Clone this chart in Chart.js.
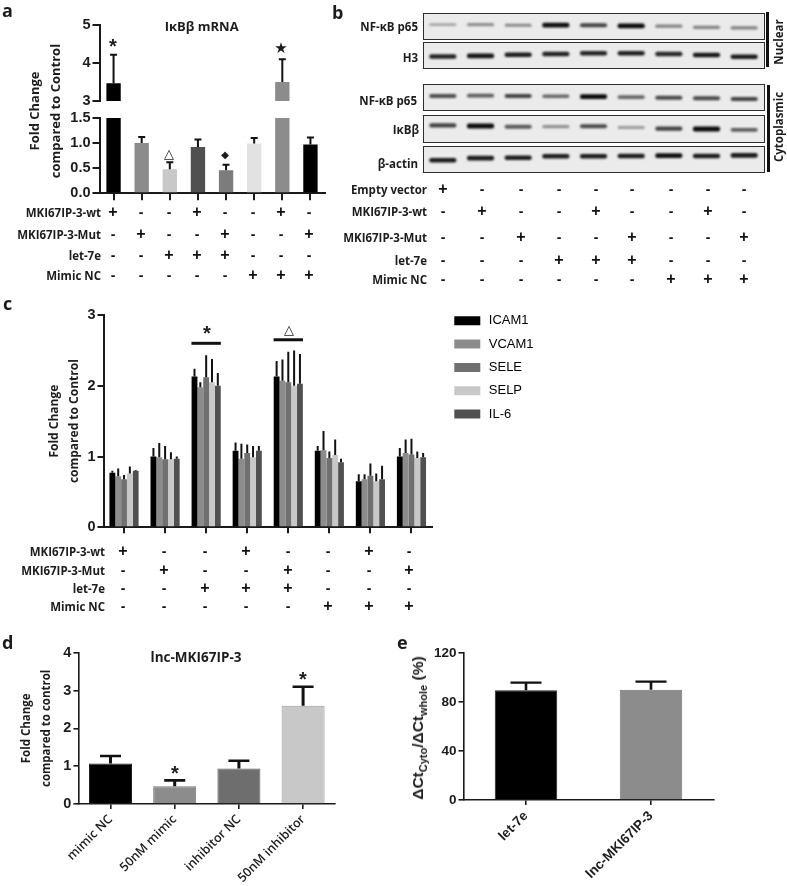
<!DOCTYPE html>
<html><head><meta charset="utf-8">
<script src="https://cdn.jsdelivr.net/npm/chart.js@4/dist/chart.umd.min.js"></script>
<style>
html,body{margin:0;padding:0;background:#fff;width:787px;height:886px;overflow:hidden}
#page{position:relative;width:787px;height:886px;filter:blur(0.35px)}
canvas{position:absolute;display:block}
.t{position:absolute;white-space:pre;color:#1c1c1c;line-height:1}
.blot{position:absolute;box-sizing:border-box;border:1.5px solid #2e2e2e;background:#ebebeb;overflow:hidden}
.blot canvas{filter:blur(0.8px)}
.vbar{position:absolute;background:#111}
</style></head><body><div id="page"></div>
<script>
// ---------- panel a ----------
const aGroups = ['1','2','3','4','5','6','7','8'];
const aValues = [3.47,1.0,0.48,0.92,0.46,0.99,3.5,0.97];
const aErrTop = [4.22,1.12,0.62,1.07,0.57,1.10,4.10,1.11];
const aColors = ['#000000','#8c8c8c','#c8c8c8','#505050','#7c7c7c','#e2e2e2','#8c8c8c','#000000'];
const treatRowsA = ['MKI67IP-3-wt','MKI67IP-3-Mut','let-7e','Mimic NC'];
const treatA = ['+--+--+-','-+--+--+','--+++---','-----+++'];
// ---------- panel b ----------
const lanes = ['1','2','3','4','5','6','7','8','9'];
const blotNames = ['NF-κB p65','H3','NF-κB p65','IκBβ','β-actin'];
const nucP65Pos  = [.557,.557,.532,.532,.532,.506,.494,.443,.418];
const nucP65Int  = [.25,.35,.38,.98,.72,1,.42,.42,.42];
const h3Pos      = [.438,.463,.513,.538,.575,.575,.538,.5,.425];
const h3Int      = [.88,.95,.92,.9,.88,.9,.86,.95,.92];
const cytP65Pos  = [.544,.557,.544,.532,.519,.494,.468,.443,.418];
const cytP65Int  = [.68,.6,.72,.55,1,.55,.7,.7,.72];
const ikbPos     = [.627,.602,.566,.578,.59,.542,.494,.482,.446];
const ikbInt     = [.72,1,.62,.35,.7,.3,.72,1,.6];
const actinPos   = [.45,.538,.55,.613,.613,.625,.638,.625,.65];
const actinInt   = [.92,.92,.92,.92,.92,.92,.98,.92,.92];
const treatRowsB = ['Empty vector','MKI67IP-3-wt','MKI67IP-3-Mut','let-7e','Mimic NC'];
const treatB = ['+--------','-+--+--+-','--+--+--+','---+++---','------+++'];
// ---------- panel c ----------
const cGroups = ['1','2','3','4','5','6','7','8'];
const cSeriesNames = ['ICAM1','VCAM1','SELE','SELP','IL-6'];
const cColors = ['#000000','#8c8c8c','#707070','#c8c8c8','#505050'];
const icam1 = [.77,1.0,2.13,1.08,2.13,1.08,.65,1.0];
const vcam1 = [.72,.99,1.98,.97,2.07,1.09,.68,1.05];
const sele  = [.68,.96,2.12,1.05,2.05,.98,.73,1.03];
const selp  = [.76,.96,2.05,.99,2.0,1.02,.65,.98];
const il6   = [.80,.97,2.0,1.08,2.03,.92,.68,.99];
const icam1Top = [.80,1.12,2.24,1.20,2.35,1.15,.75,1.12];
const vcam1Top = [.83,1.19,2.05,1.18,2.37,1.36,.75,1.24];
const seleTop  = [.74,1.15,2.43,1.17,2.48,1.07,.90,1.25];
const selpTop  = [.86,1.06,2.38,1.15,2.50,1.24,.76,1.07];
const il6Top   = [.81,1.00,2.18,1.15,2.45,.97,.87,1.05];
const treatRowsC = ['MKI67IP-3-wt','MKI67IP-3-Mut','let-7e','Mimic NC'];
const treatC = ['+--+--+-','-+--+--+','--+++---','-----+++'];
const cBrackets = [[2,2.60],[4,2.65]];
// ---------- panel d ----------
const dCats = ['mimic NC','50nM mimic','inhibitor NC','50nM inhibitor'];
const dValues = [1.07,0.47,0.94,2.60];
const dErrTop = [1.27,0.625,1.145,3.10];
const dColors = ['#000000','#8c8c8c','#6e6e6e','#c8c8c8'];
// ---------- panel e ----------
const eCats = ['let-7e','lnc-MKI67IP-3'];
const eValues = [89.7,90.2];
const eErrTop = [96,96.8];
const eColors = ['#000000','#8c8c8c'];

const page = document.getElementById('page');
const SEMI = '"Open Sans"';
const ARIAL = '"Liberation Sans"';
Chart.defaults.animation = false;
Chart.defaults.responsive = false;
Chart.defaults.devicePixelRatio = 1;
Chart.defaults.color = '#1c1c1c';

const errBars = {
  id:'errBars',
  afterDatasetsDraw(chart,args,o){
    if(!o.lw) return;
    const ctx = chart.ctx, a = chart.chartArea, y = chart.scales.y;
    ctx.save();
    ctx.beginPath(); ctx.rect(a.left,a.top-4,a.right-a.left,a.bottom-a.top+4); ctx.clip();
    ctx.strokeStyle = o.color||'#111'; ctx.lineCap='butt';
    chart.data.datasets.forEach((ds,i)=>{
      if(!ds.errTop) return;
      chart.getDatasetMeta(i).data.forEach((b,j)=>{
        const yt = y.getPixelForValue(ds.errTop[j]), yb = y.getPixelForValue(ds.data[j]);
        ctx.lineWidth = o.lw; ctx.beginPath(); ctx.moveTo(b.x,yb); ctx.lineTo(b.x,yt); ctx.stroke();
        if(o.cap){ctx.lineWidth = o.capLw||o.lw; ctx.beginPath(); ctx.moveTo(b.x-o.cap/2,yt); ctx.lineTo(b.x+o.cap/2,yt); ctx.stroke();}
      });
    });
    ctx.restore();
  }
};
const brackets = {
  id:'brackets',
  afterDatasetsDraw(chart,args,o){
    if(!o.items) return;
    const ctx = chart.ctx;
    ctx.save(); ctx.strokeStyle='#111'; ctx.lineWidth=3;
    o.items.forEach(([g,v])=>{
      const x = chart.scales.x.getPixelForValue(g), yy = chart.scales.y.getPixelForValue(v);
      ctx.beginPath(); ctx.moveTo(x-14.7,yy); ctx.lineTo(x+14.7,yy); ctx.stroke();
    });
    ctx.restore();
  }
};
Chart.register(errBars,brackets);

function mkCanvas(r,parent){
  const c=document.createElement('canvas');
  c.width=r.w;c.height=r.h;c.style.left=r.l+'px';c.style.top=r.t+'px';
  c.style.width=r.w+'px';c.style.height=r.h+'px';
  (parent||page).appendChild(c);return c;
}
function axes(r,p,o){
  const lw=o.lw||2, tl=o.tick||7;
  const noX=o.xDisplay===false;
  const y={type:'linear',min:o.min,max:o.max,
    afterFit(s){s.width=p.l-r.l;s.paddingTop=0;s.paddingBottom=0;},
    grid:{drawOnChartArea:false,drawTicks:true,tickLength:tl,color:'#1a1a1a',lineWidth:lw},
    border:{display:true,color:'#1a1a1a',width:lw},
    ticks:{stepSize:o.step,padding:o.tp||2,color:'#1c1c1c',font:{family:ARIAL,weight:'bold',size:o.ts||14.5},callback:o.fmt||(v=>String(v))},
    title:o.title?{display:true,text:o.title,color:'#1c1c1c',font:{family:SEMI,weight:'700',size:o.titleSize||12,lineHeight:20/(o.titleSize||12)},padding:0}:{display:false}
  };
  const x={type:'category',display:true,
    afterFit(s){s.height=r.t+r.h-p.b;s.paddingLeft=0;s.paddingRight=0;},
    grid:{display:!noX,drawOnChartArea:false,drawTicks:true,offset:false,tickLength:tl,color:'#1a1a1a',lineWidth:lw},
    border:{display:!noX,color:'#1a1a1a',width:lw},
    ticks:o.xLabels?{display:true,autoSkip:false,minRotation:45,maxRotation:45,padding:o.xp||1,color:'#1c1c1c',font:o.xFont}:{display:false}
  };
  return {x,y};
}
function chart(r,p,labels,datasets,o){
  const c=mkCanvas(r);
  const plugins={legend:{display:false},tooltip:{enabled:false},
    errBars:o.err,brackets:{items:o.brackets}};
  return new Chart(c,{type:'bar',data:{labels,datasets},options:{
    layout:{autoPadding:false,padding:{left:0,top:p.t-r.t,right:r.l+r.w-p.r,bottom:0}},
    scales:axes(r,p,o),plugins}});
}
function txt(s,x,y,o){
  o=o||{};
  const d=document.createElement('div');d.className='t';d.textContent=s;
  d.style.left=x+'px';d.style.top=y+'px';
  d.style.font=(o.w||'600')+' '+(o.s||12)+'px '+(o.f||SEMI);
  if(o.c)d.style.color=o.c;
  const ax=o.a==='r'?'-100%':o.a==='l'?'0':'-50%';
  d.style.transform='translate('+ax+',-50%)'+(o.rot?' rotate('+o.rot+'deg)':'');
  page.appendChild(d);return d;
}
function table(rows,codes,labelRight,ys,xs){
  rows.forEach((n,i)=>{
    txt(n,labelRight,ys[i],{a:'r',w:'700',s:11.5});
    [...codes[i]].forEach((m,j)=>{
      txt(m==='+'?'+':'-',xs[j],ys[i],{w:'700',s:m==='+'?16:14,f:ARIAL,c:'#111'});
    });
  });
}

// ----- a: broken axis drawn as two stacked charts -----
const aX=[113,141,169,197,225,253,281,309];
const aDs=()=>[{data:aValues,errTop:aErrTop,backgroundColor:aColors,barPercentage:.51,categoryPercentage:1}];
chart({l:60,t:15,w:275,h:92},{l:99.5,t:25,r:324.5,b:101},aGroups,aDs(),
  {min:3,max:5,step:1,xDisplay:false,err:{lw:2,cap:7}});
chart({l:60,t:108,w:275,h:95},{l:99.5,t:118,r:324.5,b:193.3},aGroups,aDs(),
  {min:0,max:1.5,step:.5,fmt:v=>v.toFixed(1),err:{lw:2,cap:7}});
txt('a',2,10,{a:'l',w:'700',s:18});
txt('IκBβ mRNA',201.7,26,{w:'700',s:13});
txt('Fold Change',34,111,{rot:-90,w:'700',s:13});
txt('compared to Control',55,111,{rot:-90,w:'700',s:13});
txt('*',113,46,{w:'700',s:20,f:ARIAL});
txt('★',281,48,{w:'400',s:15,f:'"DejaVu Sans"'});
txt('△',169,153,{w:'400',s:13,f:'"DejaVu Sans"'});
txt('◆',225,154,{w:'400',s:10,f:'"DejaVu Sans"'});
table(treatRowsA,treatA,101,[212,234,255,275],aX);

// ----- b: blots -----
txt('b',332,12,{a:'l',w:'700',s:18});
const blots=[
 {pos:nucP65Pos,int:nucP65Int,t:13,h:27,ly:26,lr:418},
 {pos:h3Pos,int:h3Int,t:42,h:27,ly:57,lr:418},
 {pos:cytP65Pos,int:cytP65Int,t:84,h:27,ly:100,lr:417},
 {pos:ikbPos,int:ikbInt,t:115,h:28,ly:129,lr:419},
 {pos:actinPos,int:actinInt,t:146,h:27,ly:163,lr:418}];
blots.forEach((b,i)=>{
  const box=document.createElement('div');box.className='blot';
  box.style.left='423px';box.style.top=b.t+'px';box.style.width='342px';box.style.height=b.h+'px';
  page.appendChild(box);
  const c=mkCanvas({l:0,t:0,w:339,h:b.h-3},box);
  new Chart(c,{type:'bar',data:{labels:lanes,datasets:[{
      data:b.pos.map((v,j)=>{const th=.045+.055*b.int[j];return [v-th,v+th];}),
      backgroundColor:b.int.map(v=>{const g=Math.round(215-205*v);return 'rgb('+g+','+g+','+g+')';}),
      borderRadius:2,borderSkipped:false,barPercentage:.72,categoryPercentage:1}]},
    options:{layout:{autoPadding:false,padding:0},
      plugins:{legend:{display:false},tooltip:{enabled:false}},
      scales:{x:{display:false},y:{display:false,min:0,max:1}}}});
  txt(blotNames[i],b.lr,b.ly,{a:'r',w:'700',s:11.5});
});
[[766,12,2.5,55],[767,85,2.5,87]].forEach(([l,t,w,h])=>{
  const v=document.createElement('div');v.className='vbar';
  v.style.cssText+='left:'+l+'px;top:'+t+'px;width:'+w+'px;height:'+h+'px';
  page.appendChild(v);
});
txt('Nuclear',778,42,{rot:-90,w:'700',s:11.5});
txt('Cytoplasmic',778,127,{rot:-90,w:'700',s:11.5});
table(treatRowsB,treatB,427,[189,211,237,260,279],[443,482,521,559,596,632,671,708,744]);

// ----- c -----
const cDs=[[icam1,icam1Top],[vcam1,vcam1Top],[sele,seleTop],[selp,selpTop],[il6,il6Top]].map((d,i)=>({
  label:cSeriesNames[i],data:d[0],errTop:d[1],backgroundColor:cColors[i],barPercentage:1,categoryPercentage:.71}));
chart({l:45,t:305,w:400,h:232},{l:103.5,t:315,r:432,b:527.3},cGroups,cDs,{
  min:0,max:3,step:1,title:['Fold Change','compared to Control'],titleSize:12,lw:2,tick:6,
  err:{lw:2},brackets:cBrackets});
// legend of panel c: its own small chart holding only the native legend
new Chart(mkCanvas({l:441.7,t:304,w:280,h:130}),{type:'bar',
  data:{labels:[],datasets:cDs.map(d=>({label:d.label,data:[],backgroundColor:d.backgroundColor}))},
  options:{layout:{padding:0},scales:{x:{display:false},y:{display:false}},
    plugins:{tooltip:{enabled:false},legend:{position:'left',align:'start',
      labels:{boxWidth:30,boxHeight:13,padding:10.3,color:'#1c1c1c',font:{family:ARIAL,size:13},
        generateLabels(ch){return ch.data.datasets.map((d,i)=>({text:d.label,fillStyle:d.backgroundColor,strokeStyle:'#fff',lineWidth:4,datasetIndex:i}));}}}}}});
txt('c',3,303,{a:'l',w:'700',s:18});
txt('*',207,333,{w:'700',s:20,f:ARIAL});
txt('△',289,329,{w:'400',s:13,f:'"DejaVu Sans"'});
table(treatRowsC,treatC,105,[551,570,588,606],[123,164,205,246,288,328,369,409]);

// ----- d -----
chart({l:17,t:640,w:328,h:246},{l:78.4,t:652.7,r:335.2,b:804},dCats,
  [{data:dValues,errTop:dErrTop,backgroundColor:dColors,borderColor:['#222','#777','#5c5c5c','#999'],borderWidth:1,barPercentage:.67,categoryPercentage:1}],
  {min:0,max:4,step:1,title:['Fold Change','compared to control'],titleSize:11.5,lw:1.6,tick:5,
   err:{lw:3,cap:21,capLw:2.6},xLabels:true,xp:3,xFont:{family:SEMI,weight:'600',size:12.5}});
txt('d',2,642,{a:'l',w:'700',s:18});
txt('lnc-MKI67IP-3',196,657,{w:'700',s:13.5});
txt('*',175,773,{w:'700',s:20,f:ARIAL});
txt('*',303,679,{w:'700',s:20,f:ARIAL});

// ----- e -----
chart({l:425,t:640,w:300,h:246},{l:463.5,t:653.3,r:713.5,b:800},eCats,
  [{data:eValues,errTop:eErrTop,backgroundColor:eColors,borderColor:['#222','#777'],borderWidth:1,barPercentage:.5,categoryPercentage:1}],
  {min:0,max:120,step:40,lw:1.6,tick:5,ts:13.5,
   err:{lw:2.6,cap:31,capLw:2.2},xLabels:true,xp:3,xFont:{family:ARIAL,weight:'bold',size:13.5}});
txt('e',397,642,{a:'l',w:'700',s:18});
const ey=txt('',418,728,{rot:-90,w:'700',s:15.5,f:ARIAL});
ey.innerHTML='ΔCt<sub style="font-size:11px;line-height:0">Cyto</sub>/ΔCt<sub style="font-size:11px;line-height:0">whole</sub> (%)';
</script></body></html>
